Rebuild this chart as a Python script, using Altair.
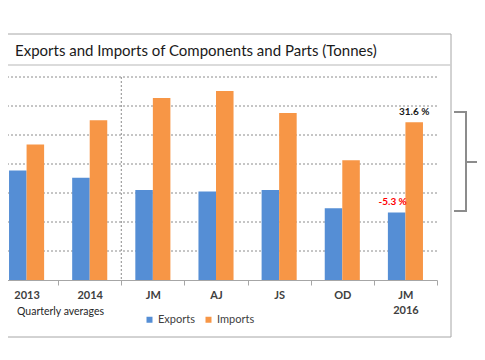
import altair as alt
import pandas as pd

categories = ["2013", "2014", "JM", "AJ", "JS", "OD", "JM 2016"]
exports = [3780, 3530, 3100, 3050, 3100, 2470, 2330]
imports = [4670, 5510, 6280, 6520, 5760, 4130, 5440]
series = ["Exports", "Imports"]
colors = ["#558ED5", "#F79646"]
grid_values = [1000, 2000, 3000, 4000, 5000, 6000, 7000]

ann_text = ["31.6 %", "-5.3 %"]
ann_cat = ["JM 2016", "JM 2016"]
ann_series = ["Imports", "Exports"]
ann_value = [5440, 2330]
ann_color = ["#1a1a1a", "#FF0000"]

FONT = "Lato"
H = 203

rows = []
for c, e, i in zip(categories, exports, imports):
    rows.append({"cat": c, "series": "Exports", "value": e})
    rows.append({"cat": c, "series": "Imports", "value": i})
df = pd.DataFrame(rows)

ann = pd.DataFrame({"text": ann_text, "cat": ann_cat, "series": ann_series,
                    "value": ann_value})
grid_df = pd.DataFrame({"value": grid_values})

one = pd.DataFrame({"a": [0]})

xenc = alt.X("cat:N", sort=categories,
             scale=alt.Scale(paddingInner=0, paddingOuter=0),
             axis=alt.Axis(title=None, labelAngle=0, domainColor="#a6a6a6",
                           tickColor="#a6a6a6", tickSize=5, tickBand="extent",
                           labelFont=FONT, labelFontSize=11, labelFontWeight="bold",
                           labelColor="#404040", labelPadding=4, labelLineHeight=15,
                           labelExpr="split(datum.label, ' ')", grid=False))
xoff = alt.XOffset("series:N", sort=series,
                   scale=alt.Scale(paddingOuter=0.8, paddingInner=0))
yscale = alt.Scale(domain=[0, 7000])
yenc = alt.Y("value:Q", scale=yscale, axis=None)

gridlines = alt.Chart(grid_df).mark_rule(color="#8c8c8c", strokeDash=[2, 2], strokeWidth=1).encode(
    y=alt.Y("value:Q", scale=yscale, axis=None),
    x=alt.value(-20), x2=alt.value(442))

bars = alt.Chart(df).mark_bar().encode(
    x=xenc, xOffset=xoff, y=yenc,
    color=alt.Color("series:N", scale=alt.Scale(domain=series, range=colors),
                    legend=alt.Legend(title=None, orient="none", legendX=149, legendY=237,
                                      direction="horizontal", symbolType="square",
                                      symbolSize=36, symbolStrokeWidth=0,
                                      labelFont=FONT, labelFontSize=11,
                                      labelColor="#404040", columnPadding=8,
                                      labelOffset=3, padding=0)),
)

lab1 = alt.Chart(ann.iloc[[0]]).mark_text(font=FONT, fontSize=10, fontWeight="bold",
                                          baseline="bottom", dy=-5, color=ann_color[0]).encode(
    x=alt.X("cat:N", sort=categories), xOffset=alt.XOffset("series:N", sort=series),
    y=alt.Y("value:Q"), text="text:N")
lab2 = alt.Chart(ann.iloc[[1]]).mark_text(font=FONT, fontSize=10, fontWeight="bold",
                                          baseline="bottom", dy=-5, dx=-4, color=ann_color[1]).encode(
    x=alt.X("cat:N", sort=categories), xOffset=alt.XOffset("series:N", sort=series),
    y=alt.Y("value:Q"), text="text:N")

divider = alt.Chart(pd.DataFrame({"cat": ["JM"]})).mark_rule(
    color="#8c8c8c", strokeDash=[2, 2], strokeWidth=1).encode(
    x=alt.X("cat:N", sort=categories, bandPosition=0),
    y=alt.value(0), y2=alt.value(H))

frame = alt.Chart(one).mark_rect(fillOpacity=0, stroke="#a6a6a6", strokeWidth=1).encode(
    x=alt.value(-20), x2=alt.value(456), y=alt.value(-43), y2=alt.value(260))
sep = alt.Chart(one).mark_rule(color="#cfcfcf", strokeWidth=1.5).encode(
    x=alt.value(-20), x2=alt.value(456), y=alt.value(-12))
title = alt.Chart(one).mark_text(text="Exports and Imports of Components and Parts (Tonnes)",
                                 font=FONT, fontSize=15, color="#1a1a1a",
                                 align="left", baseline="alphabetic").encode(
    x=alt.value(20), y=alt.value(-21))
qa = alt.Chart(one).mark_text(text="Quarterly averages", font=FONT, fontSize=10.5,
                              color="#262626", align="left", baseline="middle").encode(
    x=alt.value(22), y=alt.value(235))

bcol = "#8c8c8c"
b1 = alt.Chart(one).mark_rule(color=bcol, strokeWidth=2).encode(
    x=alt.value(471), y=alt.value(35), y2=alt.value(134))
b2 = alt.Chart(one).mark_rule(color=bcol, strokeWidth=2).encode(
    x=alt.value(459), x2=alt.value(472), y=alt.value(35))
b3 = alt.Chart(one).mark_rule(color=bcol, strokeWidth=2).encode(
    x=alt.value(459), x2=alt.value(472), y=alt.value(134))
b4 = alt.Chart(one).mark_rule(color=bcol, strokeWidth=2).encode(
    x=alt.value(471), x2=alt.value(483), y=alt.value(85))

chart = alt.layer(frame, sep, title, gridlines, bars, divider, lab1, lab2, qa,
                  b1, b2, b3, b4).properties(
    width=442, height=H,
    autosize=alt.AutoSizeParams(type="none"),
    padding={"left": -13, "top": 69, "right": 40, "bottom": 68},
    background="white",
).configure_view(stroke=None)

chart.save("out.html", embed_options={"renderer": "svg", "actions": False})
